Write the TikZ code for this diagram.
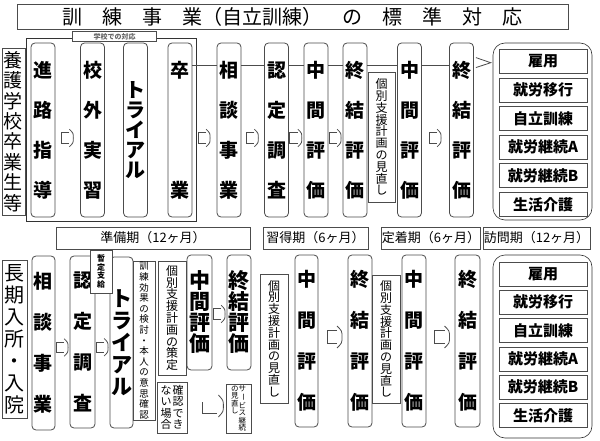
\documentclass[tikz,border=0pt]{standalone}
\usepackage{fontspec}
\setmainfont{Noto Sans CJK JP}
\usetikzlibrary{positioning,fit,calc}

% one column of vertical text
\newcommand\tcol[1]{\parbox[t]{1em}{\centering #1}}

\begin{document}
\begin{tikzpicture}[x=1pt,y=-1pt,line width=0.8pt,
		titlebox/.style={rectangle,draw=black!70,inner sep=0pt,font=\fontsize{20}{20}\selectfont},
		tallbox/.style={rectangle,draw=black!70,fill=white,rounded corners=4pt,inner sep=0pt,
			align=center,minimum width=24pt,minimum height=174pt,font=\bfseries\fontsize{19}{40}\selectfont},
		notebox/.style={rectangle,draw=black!70,fill=white,inner sep=0pt,align=center,
			font=\fontsize{12}{11.8}\selectfont},
		sidebox/.style={rectangle,draw=black!70,inner sep=0pt,align=center,font=\fontsize{19}{20.4}\selectfont},
		periodbox/.style={rectangle,draw=black!70,inner sep=0pt,minimum height=22pt,font=\fontsize{13}{13}\selectfont},
		groupbox/.style={rectangle,draw=black!80,semithick,rounded corners=12pt,minimum width=99pt},
		choicebox/.style={rectangle,draw=black!70,inner sep=0pt,minimum width=88pt,minimum height=24pt,
			font=\bfseries\fontsize{15}{15}\selectfont},
		tagbox/.style={rectangle,draw=black!70,fill=white,inner sep=0pt,minimum width=84pt,minimum height=10pt,
			text=black!60,font=\bfseries\fontsize{7}{7}\selectfont},
		barrow/.pic={
			\draw [black!70] (2,-6.5) -- (-8,-6.5) -- (-8,6.5) -- (2,6.5);
			\draw [black!70] (2,-11) .. controls (7,-6) .. (7,0) .. controls (7,6) .. (2,11);
		}]
		\useasboundingbox (0,0) rectangle (600,441);

		\node [titlebox,minimum width=551pt,minimum height=25pt] (title) at (292.5,16.5)
			{訓　練　事　業（自立訓練）　の　標　準　対　応};

		% school leavers
		\node [sidebox,minimum width=23pt,minimum height=167pt] (schoolgrad) at (13.5,131.5)
			{養\\護\\学\\校\\卒\\業\\生\\等};
		\node [tallbox] (sin) at (43,130) {進\\路\\指\\導};
		\node [tallbox] (kogai) at (92.5,130) {校\\外\\実\\習};
		\node [tallbox,font=\bfseries\fontsize{20}{20}\selectfont] (trialA) at (135.5,130) {ト\\ラ\\イ\\ア\\ル};
		\node [tallbox] (sotsu) at (180,130) {卒\\[80pt]業};
		\node [draw=black!80,fit=(sin)(sotsu),inner sep=4pt] (school) {};
		\node [tagbox] (schooltag) at ([xshift=3pt,yshift=1.5pt]school.north) {学校での対応};

		\node [tallbox] (soudanA) at (229,130) {相\\談\\事\\業};
		\node [tallbox] (ninteiA) at (276.5,130) {認\\定\\調\\査};
		\node [tallbox] (chukanA1) at (316,130) {中\\間\\評\\価};
		\node [tallbox] (shuketsuA1) at (355,130) {終\\結\\評\\価};
		\node [notebox,minimum width=27pt,minimum height=130pt] (minaoshiA) at (381.5,137)
			{個\\別\\支\\援\\計\\画\\の\\見\\直\\し};
		\node [tallbox] (chukanA2) at (409.5,130) {中\\間\\評\\価};
		\node [tallbox] (shuketsuA2) at (461.5,130) {終\\結\\評\\価};

		\node [groupbox,minimum height=177pt] (outcomeA) at (542.5,131.5) {};
		\foreach \txt [count=\i] in {雇用,就労移行,自立訓練,就労継続A,就労継続B,生活介護}
			\node [choicebox] (choiceA-\i) at (543,{61.5+28.6*(\i-1)}) {\txt};

		% long stay
		\node [periodbox,minimum width=194pt] (junbi) at (153,238) {準備期（12ヶ月）};
		\node [periodbox,minimum width=105pt] (shutoku) at (315.5,238) {習得期（6ヶ月）};
		\node [periodbox,minimum width=98pt] (teichaku) at (431,238) {定着期（6ヶ月）};
		\node [periodbox,minimum width=107pt] (houmon) at (536.5,238) {訪問期（12ヶ月）};

		\node [sidebox,minimum width=25pt,minimum height=158pt,font=\fontsize{20}{22}\selectfont] (longstay)
			at (14.5,339) {長\\期\\入\\所\\・\\入\\院};
		\node [tallbox,minimum width=23pt,font=\bfseries\fontsize{19}{41}\selectfont] (soudanB)
			at (43.5,343) {相\\談\\事\\業};
		\node [tallbox,minimum width=25pt,minimum height=172pt,font=\bfseries\fontsize{19}{41}\selectfont] (ninteiB)
			at (82.5,342) {認\\定\\調\\査};
		\node [tallbox,minimum width=23pt,minimum height=171pt,font=\bfseries\fontsize{21}{22}\selectfont] (trialB)
			at (121.5,342.5) {ト\\ラ\\イ\\ア\\ル};
		\node [notebox,minimum width=22pt,minimum height=43pt,font=\bfseries\fontsize{8}{8.5}\selectfont] (zantei)
			at (101,271.5) {暫\\定\\支\\給};
		\node [notebox,minimum width=22pt,minimum height=159pt,font=\fontsize{9.5}{10.6}\selectfont] (kentou)
			at (144,340.5) {訓\\練\\効\\果\\の\\検\\討\\・\\本\\人\\の\\意\\思\\確\\認};
		\node [notebox,minimum width=28pt,minimum height=114pt] (sakutei) at (172,318)
			{個\\別\\支\\援\\計\\画\\の\\策\\定};
		\node [tallbox,minimum width=25pt,minimum height=115pt,font=\bfseries\fontsize{21}{21}\selectfont] (chukanB0)
			at (199.5,312.5) {中\\間\\評\\価};
		\node [tallbox,minimum height=115pt,font=\bfseries\fontsize{21}{21}\selectfont] (shuketsuB0)
			at (239,312.5) {終\\結\\評\\価};
		\node [notebox,minimum width=30pt,minimum height=51pt,font=\fontsize{11}{11.5}\selectfont] (kakunin)
			at (172,407.5) {\tcol{な\par い\par 場\par 合}\hspace{1pt}\tcol{確\par 認\par で\par き}};
		\node [notebox,minimum width=25pt,minimum height=49pt,font=\fontsize{7.5}{7.5}\selectfont] (keizoku)
			at (238.5,408.5) {\tcol{の\par 見\par 直\par し}\tcol{サ\par \rotatebox[origin=c]{-90}{ー}\par ビ\par ス\par 継\par 続}};

		\node [notebox,minimum width=28pt,minimum height=129pt] (minaoshiB1) at (274,338.5)
			{個\\別\\支\\援\\計\\画\\の\\見\\直\\し};
		\node [tallbox,minimum width=23pt,minimum height=172pt,font=\bfseries\fontsize{19}{41}\selectfont] (chukanB1)
			at (306.5,341) {中\\間\\評\\価};
		\node [tallbox,minimum height=172pt,font=\bfseries\fontsize{19}{41}\selectfont] (shuketsuB1)
			at (360,341) {終\\結\\評\\価};
		\node [notebox,minimum width=28pt,minimum height=128pt] (minaoshiB2) at (386,339)
			{個\\別\\支\\援\\計\\画\\の\\見\\直\\し};
		\node [tallbox,minimum height=172pt,font=\bfseries\fontsize{19}{41}\selectfont] (chukanB2)
			at (414,341) {中\\間\\評\\価};
		\node [tallbox,minimum width=25pt,minimum height=172pt,font=\bfseries\fontsize{19}{41}\selectfont] (shuketsuB2)
			at (467.5,341) {終\\結\\評\\価};

		\node [groupbox,minimum height=183pt] (outcomeB) at (542.5,346.5) {};
		\foreach \txt [count=\i] in {雇用,就労移行,自立訓練,就労継続A,就労継続B,生活介護}
			\node [choicebox] (choiceB-\i) at (543,{274+28.3*(\i-1)}) {\txt};

		% line along the top row
		\coordinate (lineA) at (0,65);
		\foreach \a/\b in {sotsu/soudanA,soudanA/ninteiA,ninteiA/chukanA1,chukanA1/shuketsuA1,
				shuketsuA1/chukanA2,chukanA2/shuketsuA2}
			\draw [black!70] (\a.east|-lineA) to (\b.west|-lineA);
		\draw [black!70] ($(shuketsuA2.north east)+(2,15)$) -- ($(outcomeA.north west)+(-2,20)$)
			-- ($(shuketsuA2.north east)+(2,25)$);

		% block arrows
		\foreach \a/\b in {sin/kogai,sotsu/soudanA,soudanA/ninteiA,ninteiA/chukanA1,
				chukanA1/shuketsuA1,chukanA2/shuketsuA2}
			\pic [scale=.8] at ($(\a.east)!.5!(\b.west)+(0,8)$) {barrow};
		\foreach \a/\b/\dy in {soudanB/ninteiB/5,ninteiB/trialB/5,chukanB0/shuketsuB0/1.5}
			\pic [scale=.8] at ($(\a.east)!.5!(\b.west)+(0,\dy)$) {barrow};
		\foreach \a/\b in {chukanB1/shuketsuB1,chukanB2/shuketsuB2}
			\pic at ($(\a.east)!.5!(\b.west)+(2,-4)$) {barrow};

		% no confirmation
		\draw [black!70] ($(kakunin.east)+(15,-5.5)$) -- ++(0,11) -- ++(15,0);
		\draw [black!70] ($(kakunin.east)+(31,-12.5)$) .. controls ($(kakunin.east)+(36,-7)$)
			.. ($(kakunin.east)+(36,-1.5)$) .. controls ($(kakunin.east)+(36,4)$) .. ($(kakunin.east)+(31,9.5)$);
	\end{tikzpicture}
\end{document}
